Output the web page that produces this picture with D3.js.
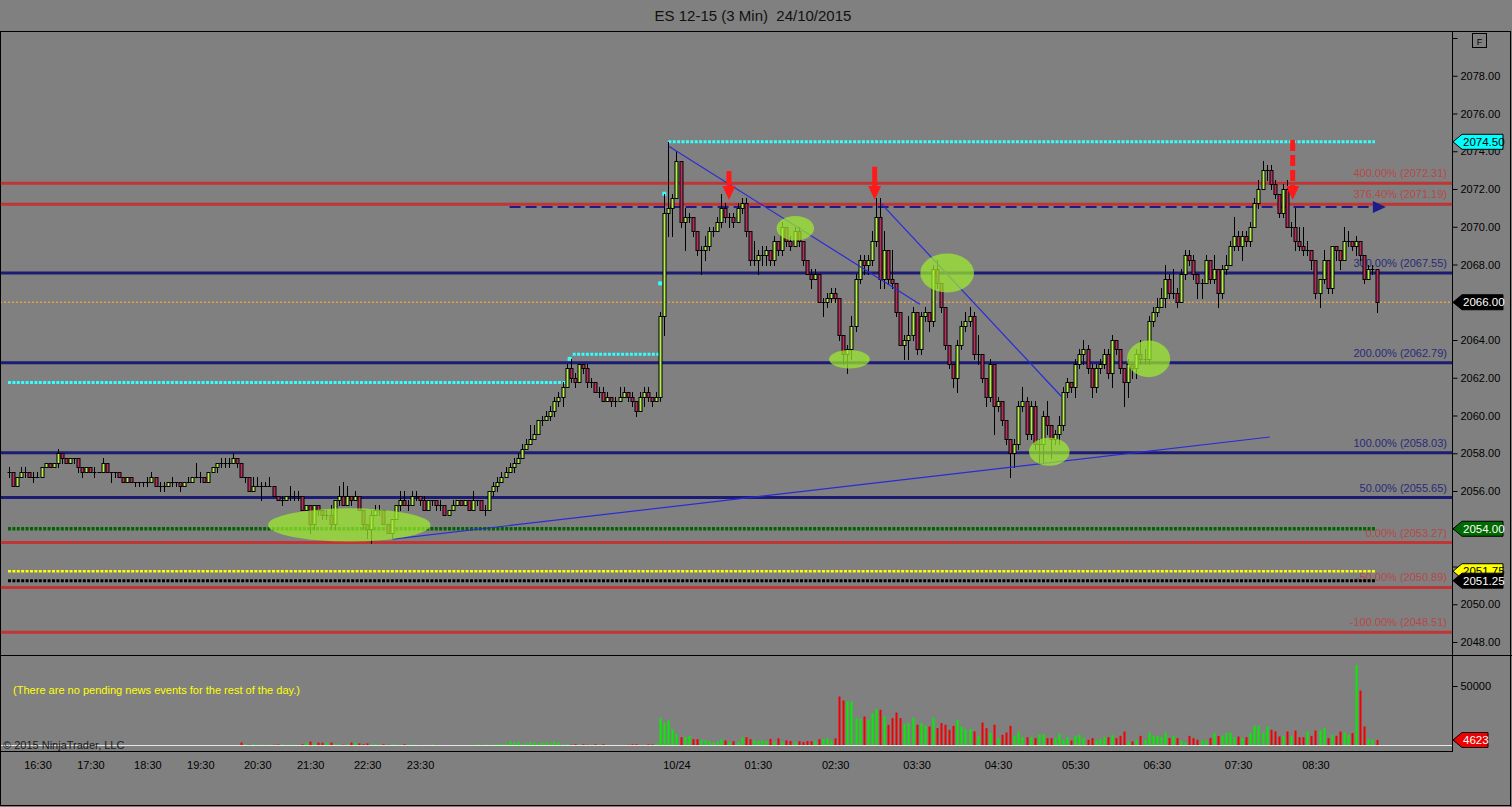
<!DOCTYPE html>
<html><head><meta charset="utf-8">
<script src="https://cdn.jsdelivr.net/npm/d3@7"></script>
<style>
html,body{margin:0;padding:0;background:#808080;overflow:hidden;}
svg{display:block;font-family:"Liberation Sans",Arial,sans-serif;}
</style></head><body>
<svg id="chart" width="1512" height="807"></svg>
<script>
// ---------------- DATA ----------------
const chartTitle = "ES 12-15 (3 Min)  24/10/2015";
const firstOpen = 2057.0;
const closes = [
2057.0,2056.25,2056.75,2057.0,2057.0,2056.75,2056.75,2056.75,2057.25,2057.5,
2057.25,2057.5,2058.0,2057.75,2057.5,2057.75,2057.75,2057.25,2057.0,2057.25,
2057.0,2057.0,2057.0,2057.5,2057.0,2057.0,2057.0,
2056.75,2056.5,2056.75,2056.5,2056.5,2056.5,2056.5,2056.5,2056.75,2056.25,
2056.25,2056.25,2056.5,2056.5,2056.5,2056.25,2056.5,
2056.5,2056.75,2056.75,2056.75,2056.5,2057.0,2057.25,2057.5,2057.5,2057.5,
2057.5,2057.75,2057.5,2056.75,2056.75,2056.0,2056.25,2056.25,2056.25,2056.25,
2056.25,2055.75,2055.5,2055.5,2055.75,2055.75,2055.75,2055.75,2055.0,2055.25,
2054.25,2055.25,2055.0,2054.75,2054.75,2054.25,2055.5,2055.75,2055.25,2055.75,
2055.5,2055.75,2055.0,2054.25,2054.0,2054.75,2055.0,2055.0,2054.25,2053.75,
2054.5,2055.25,2055.5,2055.25,2055.25,2055.75,2055.75,2055.5,2055.0,2055.5,
2055.5,2055.25,2055.25,2054.75,2055.0,2055.25,2055.5,2055.25,2055.5,2055.0,
2055.5,2055.5,2055.0,2055.0,2056.0,
2056.25,2056.5,2056.75,2057.0,2057.25,2057.5,2057.75,2058.25,2058.5,2058.75,
2059.0,2059.75,2059.75,2060.0,2060.25,2060.75,2061.0,2061.5,2062.5,2062.0,
2061.75,2062.75,2062.5,2061.75,2061.75,2061.25,2061.25,2060.75,2061.0,2060.75,
2060.75,2061.0,2061.25,2061.0,2060.75,2060.25,2061.0,2061.25,2061.0,2060.75,
2061.0,2065.25,2070.75,2071.0,2071.5,2073.5,2070.25,2070.5,2070.5,2069.75,
2068.75,2068.75,2069.0,2069.75,2069.75,2070.25,2071.0,2070.5,2070.5,2070.25,
2071.0,
2071.25,2069.75,2068.25,2068.25,2068.5,2068.5,2068.75,2068.25,2069.25,2068.75,
2070.0,2069.25,2069.0,2069.75,2069.25,2068.25,2067.5,2067.25,2067.5,2066.0,
2066.0,2066.25,2066.5,2066.25,2064.25,2063.25,2063.5,2064.75,2067.25,2068.25,
2068.0,2068.25,2069.25,2070.5,2067.25,2068.75,2067.25,2067.0,2065.5,2063.75,
2064.0,2064.25,2065.5,2063.5,2065.25,2065.5,2065.0,2067.75,2067.0,2065.75,
2063.75,2062.75,2062.0,2063.75,2064.75,2065.0,2065.25,2063.25,2063.25,2062.0,
2061.0,2062.75,2060.5,2060.75,
2059.75,2058.75,2058.0,2058.5,2060.5,2060.75,2059.0,2060.5,2058.5,2058.5,
2060.0,2059.5,2058.75,2059.0,2059.5,2061.25,2061.75,2061.5,2062.75,2063.25,
2063.5,2062.5,2061.5,2062.5,2062.75,2063.25,2062.25,2064.0,2063.5,2062.5,
2061.75,2062.75,2062.5,2063.25,2063.0,2063.0,2065.0,2065.5,2065.75,2066.25,
2067.25,2066.5,2066.5,2066.0,2067.5,2068.5,2068.25,2067.5,2067.0,2067.0,
2068.25,2067.25,2067.75,2066.5,2067.75,2068.0,2069.0,2069.5,2069.0,2069.5,
2069.25,2070.0,2071.25,2072.0,
2073.0,2073.0,2072.25,2071.75,2070.75,2072.0,2070.0,2070.0,2069.25,2069.0,
2068.75,2068.75,2068.25,2066.5,2067.25,2068.25,2066.75,2069.0,2068.75,2068.25,
2069.25,2069.25,2069.0,2069.25,2068.5,2067.25,2067.75,2067.75,2066.0
];
const highs = [
2057.25,2057.0,2056.75,2057.25,2057.25,2057.0,2057.0,2057.0,2057.25,2057.5,
2057.5,2057.5,2058.25,2058.0,2057.75,2057.75,2057.75,2057.75,2057.25,2057.25,
2057.25,2057.25,2057.0,2057.75,2057.5,2057.0,2057.0,
2057.0,2056.75,2056.75,2056.75,2056.5,2056.5,2056.5,2056.75,2057.0,2056.75,
2056.5,2056.5,2056.5,2056.75,2056.5,2056.5,2056.5,
2056.75,2056.75,2057.5,2057.0,2056.75,2057.0,2057.25,2057.5,2057.75,2057.75,
2057.75,2058.0,2057.75,2057.5,2056.75,2056.75,2056.75,2056.75,2056.5,2056.5,
2056.75,2056.25,2055.75,2055.75,2055.75,2056.25,2056.0,2056.0,2055.75,2055.25,
2055.0,2055.25,2055.25,2055.0,2055.0,2055.25,2055.5,2056.25,2056.5,2056.25,
2055.75,2056.0,2055.75,2055.0,2054.25,2055.0,2055.25,2055.25,2054.75,2054.25,
2054.5,2055.25,2056.0,2056.0,2055.5,2056.0,2056.0,2055.75,2055.75,2055.5,
2055.5,2055.5,2055.5,2055.25,2055.0,2055.5,2055.5,2055.5,2055.5,2055.5,
2056.0,2055.5,2055.5,2055.25,2056.0,
2056.5,2056.75,2057.0,2057.25,2057.5,2057.75,2058.0,2058.5,2058.75,2059.5,
2059.5,2059.75,2060.0,2060.25,2060.5,2061.0,2061.25,2061.75,2062.75,2063.0,
2062.25,2062.75,2062.75,2062.75,2062.0,2061.75,2061.5,2061.5,2061.25,2061.0,
2061.0,2061.5,2061.5,2061.25,2061.25,2060.75,2061.25,2061.5,2061.5,2061.0,
2061.25,2065.5,2071.75,2074.5,2071.75,2074.0,2073.5,2071.0,2070.75,2070.5,
2069.75,2069.0,2069.5,2070.0,2070.0,2070.5,2071.75,2071.25,2070.75,2070.75,
2071.25,
2071.5,2071.5,2069.5,2069.25,2068.75,2069.0,2069.0,2068.75,2069.5,2069.25,
2070.25,2070.0,2069.5,2070.0,2070.0,2069.25,2068.25,2067.75,2067.75,2067.5,
2066.25,2066.5,2066.75,2066.75,2066.25,2064.25,2063.75,2065.25,2067.5,2068.5,
2068.5,2068.5,2069.75,2071.5,2071.5,2069.75,2068.75,2068.75,2067.0,2065.5,
2064.25,2065.25,2065.75,2065.5,2065.5,2065.75,2065.5,2068.0,2068.25,2067.0,
2065.75,2063.75,2062.75,2064.0,2065.0,2065.5,2065.75,2065.5,2064.25,2063.25,
2062.0,2063.0,2062.75,2061.0,
2060.75,2059.5,2058.75,2058.75,2060.75,2061.5,2061.0,2060.75,2060.75,2058.75,
2060.25,2060.75,2059.5,2059.25,2060.0,2061.5,2062.0,2061.75,2063.0,2063.5,
2064.0,2063.75,2062.75,2062.75,2063.0,2063.5,2063.5,2064.25,2064.0,2063.5,
2062.25,2063.0,2062.75,2063.5,2064.0,2063.5,2065.25,2065.75,2066.25,2066.75,
2068.0,2067.5,2067.75,2066.75,2067.75,2068.75,2068.75,2068.5,2067.5,2067.25,
2068.5,2068.25,2068.5,2067.75,2068.0,2068.5,2069.25,2070.5,2069.75,2069.75,
2069.75,2070.25,2071.5,2072.5,
2073.5,2073.25,2073.25,2072.5,2071.75,2072.25,2072.5,2070.25,2071.0,2070.0,
2070.0,2069.25,2068.75,2068.0,2067.25,2068.75,2068.25,2069.0,2069.0,2068.75,
2070.0,2069.75,2069.25,2069.5,2069.25,2068.5,2068.0,2068.0,2067.75
];
const lows = [
2056.75,2056.25,2056.25,2056.75,2056.75,2056.75,2056.5,2056.75,2056.75,2057.25,
2057.25,2057.25,2057.25,2057.5,2057.5,2057.5,2057.5,2057.0,2056.75,2057.0,
2057.0,2056.75,2057.0,2057.0,2057.0,2056.5,2056.75,
2056.75,2056.5,2056.5,2056.5,2056.25,2056.25,2056.25,2056.25,2056.5,2056.25,
2056.0,2056.0,2056.25,2056.25,2056.25,2056.0,2056.25,
2056.5,2056.5,2056.75,2056.5,2056.5,2056.5,2057.0,2057.0,2057.25,2057.25,
2057.25,2057.5,2057.25,2056.75,2056.5,2056.0,2056.0,2056.25,2055.5,2056.25,
2056.25,2055.75,2055.5,2055.25,2055.5,2055.5,2055.5,2055.5,2055.0,2055.0,
2053.75,2054.0,2054.75,2054.5,2054.5,2054.0,2054.0,2055.25,2055.25,2055.25,
2055.25,2055.5,2055.0,2054.0,2053.5,2053.25,2054.75,2054.75,2054.25,2053.75,
2053.5,2054.5,2055.0,2055.25,2055.0,2055.25,2055.5,2055.25,2055.0,2055.25,
2055.25,2055.0,2055.0,2054.75,2054.75,2055.0,2055.25,2055.25,2055.25,2055.0,
2055.0,2055.25,2055.0,2054.75,2055.0,
2055.75,2056.0,2056.5,2056.75,2057.0,2057.0,2057.5,2057.75,2058.25,2058.5,
2058.75,2059.0,2059.5,2059.75,2059.75,2060.0,2060.5,2060.5,2061.5,2061.75,
2061.5,2061.75,2062.25,2061.5,2061.5,2061.25,2061.0,2060.75,2060.75,2060.5,
2060.5,2060.75,2061.0,2060.75,2060.5,2060.0,2060.25,2060.5,2060.75,2060.5,
2060.75,2060.75,2064.25,2069.5,2069.5,2071.5,2070.0,2068.75,2070.25,2069.5,
2068.5,2067.5,2068.25,2068.75,2069.5,2069.75,2070.0,2070.25,2070.0,2070.0,
2070.25,
2070.75,2069.5,2068.0,2068.0,2067.5,2068.0,2068.0,2068.0,2068.0,2068.5,
2068.5,2069.0,2068.75,2069.0,2069.0,2068.0,2067.5,2066.75,2067.25,2066.0,
2065.25,2065.75,2066.0,2066.0,2064.0,2062.75,2062.25,2063.0,2064.5,2067.0,
2067.5,2067.5,2068.0,2069.0,2066.75,2066.75,2067.0,2066.75,2065.25,2063.75,
2063.0,2063.0,2064.0,2063.25,2063.25,2065.0,2064.5,2064.75,2066.75,2065.5,
2063.5,2062.5,2061.5,2061.25,2063.5,2064.5,2064.75,2063.0,2062.75,2061.75,
2060.5,2060.75,2059.0,2060.25,
2059.5,2058.5,2056.75,2057.25,2058.25,2060.25,2058.75,2058.75,2058.25,2057.5,
2057.5,2059.0,2057.75,2058.5,2058.5,2059.25,2061.0,2061.25,2061.0,2062.5,
2062.75,2062.25,2061.0,2061.25,2062.25,2062.5,2062.0,2061.5,2063.25,2062.25,
2060.5,2061.0,2062.0,2062.0,2062.75,2062.75,2062.75,2064.75,2065.25,2065.75,
2065.75,2066.25,2066.25,2065.75,2066.0,2067.25,2068.0,2067.25,2066.25,2066.25,
2067.0,2067.0,2067.0,2065.75,2066.25,2067.5,2068.0,2068.75,2068.75,2068.25,
2069.0,2069.0,2070.0,2071.0,
2072.25,2072.5,2072.0,2071.5,2070.5,2070.5,2070.0,2069.5,2068.75,2068.75,
2068.5,2068.5,2067.75,2066.25,2065.75,2067.0,2066.5,2066.5,2068.25,2067.75,
2068.25,2069.0,2068.75,2068.5,2068.25,2067.0,2067.25,2067.5,2065.5
];
const volumes = [
200,150,100,250,150,100,200,150,300,200,150,250,400,200,150,100,150,300,200,150,
100,150,100,300,250,150,100,150,200,100,150,100,200,150,100,150,200,300,150,100,
150,200,100,150,100,200,150,300,200,150,250,300,200,150,300,200,150,
2500,1100,600,1100,500,1100,400,1000,600,800,
1200,500,900,700,500,1100,2500,3400,1800,2500,
2300,2500,2500,1000,1100,700,1100,2500,2600,1800,
1100,1800,1000,1100,800,1100,600,1100,800,500,
1100,900,1100,600,500,300,600,1000,500,400,
300,200,400,300,200,400,300,200,1100,400,
1100,500,1100,1300,1500,1800,3400,2500,3400,1300,
1800,2600,2500,1800,2500,2600,1800,3400,2500,1100,
1200,700,1100,1000,1100,700,500,1100,400,1100,
600,400,300,500,400,600,1000,1100,400,600,
1000,900,1800,
23000,19000,21000,13500,9500,7000,7000,8200,5300,5300,
4800,4500,3500,2500,3400,5300,4200,3000,3600,3000,
6800,7000,5300,4400,3800,4200,3600,5600,3000,6000,
3500,4400,3800,3000,3600,2800,3800,3600,3800,5300,
5300,6000,4000,6000,
41200,37800,37000,37000,23000,22400,24400,21600,27200,30500,
30000,24400,17400,23000,27700,23000,18200,18800,23000,17400,
18800,16500,16000,23500,14600,18800,17400,13200,16500,21600,
16000,13700,13700,11800,7600,19300,14600,10400,17400,6200,
9000,10900,16500,8100,11800,7000,7000,7000,6200,9000,
9800,6200,6200,6200,9800,4800,7000,4200,8100,9000,
6200,4800,6200,4200,5300,7000,7000,9000,6200,8100,
11800,3400,3400,4800,8100,4800,10900,8100,8100,7000,
10900,6200,8100,6200,4200,2500,8100,6200,4800,4200,
4200,6200,10400,8100,8100,10400,10900,7000,7600,6200,
7000,10400,16500,16500,10900,16000,13200,11800,7600,8100,
11800,7600,12600,7000,7000,11800,8100,12600,12600,14600,
6200,9000,8100,11800,10900,9000,10400,
67800,46200,16000,5300,4800,4623
];
const timeTickBars = [7,20,34,47,61,74,88,101,164,184,203,223,243,262,282,302,321];
const timeTickLabels = ["16:30","17:30","18:30","19:30","20:30","21:30","22:30","23:30","10/24","01:30","02:30","03:30","04:30","05:30","06:30","07:30","08:30"];
const priceTickValues = [2048,2050,2052,2054,2056,2058,2060,2062,2064,2066,2068,2070,2072,2074,2076,2078,2080];
const volumeTickValues = [50000];
// Fibonacci levels
const fibRedPrices = [2072.31,2071.19,2053.27,2050.89,2048.51];
const fibRedPcts = ["400.00%","376.40%","0.00%","-50.00%","-100.00%"];
const fibBluePrices = [2067.55,2062.79,2058.03,2055.65];
const fibBluePcts = ["300.00%","200.00%","100.00%","50.00%"];
// dotted level lines: [startBar, endBar, price]
const cyanLevels = [[-0.25,137.2,2061.75],[138.5,160,2063.25],[162,335.6,2074.5]];
const cyanMarkers = [[137.75,2063.0],[160,2067.0],[161,2071.75]];
const greenLevel = [-0.25,335.6,2054.0];
const yellowLevel = [-0.25,335.6,2051.75];
const blackLevel = [-0.25,335.6,2051.25];
const lastPrice = 2066.0;
const navyDashed = [123,335.1,2071.05];
// trend lines: [bar1, price1, bar2, price2]
const trendLines = [[162.2,2074.25,223.8,2065.9],[214.2,2071.25,258.7,2060.98],[94.3,2053.45,309.8,2058.86]];
// highlight ellipses: [bar, price, radiusBars, radiusPrice]
const ellipses = [[83.6,2054.2,19.95,0.88],[193.2,2069.92,4.6,0.65],[206.5,2062.98,5.0,0.49],[230.5,2067.55,6.6,1.03],[255.6,2058.08,5.0,0.74],[280,2063.0,5.3,0.97]];
// red arrows: [bar, shaftTopPrice, tipPrice, dashed]
const arrows = [[176.9,2072.95,2071.42,false],[212.7,2073.18,2071.42,false],[315.4,2074.6,2071.42,true]];
const priceTags = [[2074.5,"#00ffff","#000"],[2066.0,"#000000","#fff"],[2054.0,"#006a00","#fff"],[2051.75,"#ffff00","#000"],[2051.25,"#000000","#fff"]];
const newsText = "(There are no pending news events for the rest of the day.)";
const copyrightText = "© 2015 NinjaTrader, LLC";

// ---------------- DRAW ----------------
const svg = d3.select("#chart");
const W = 1512, H = 807;
const N = closes.length;
const plotRight = 1452;
const x = d3.scaleLinear().domain([0, N-1]).range([9, 9 + (N-1)*4.07]);
const y = d3.scaleLinear().domain([2048, 2078]).range([642, 75.75]);
const yv = d3.scaleLinear().domain([0, 50000]).range([745.5, 686]);
const opens = closes.map((c,i)=> i===0 ? firstOpen : closes[i-1]);
const bars = closes.map((c,i)=>({i, o:opens[i], c, h:Math.max(highs[i],opens[i],c), l:Math.min(lows[i],opens[i],c), v:volumes[i]}));

svg.append("rect").attr("width",W).attr("height",H).attr("fill","#808080");

// title
svg.append("text").attr("x",753).attr("y",21).attr("text-anchor","middle")
  .style("white-space","pre").attr("font-size",15).attr("fill","#111").text(chartTitle);

svg.append("defs").html(
 '<clipPath id="mainClip"><rect x="1" y="32" width="1451" height="623"/></clipPath>'+
 '<clipPath id="volClip"><rect x="1" y="656" width="1451" height="95"/></clipPath>');

const main = svg.append("g").attr("clip-path","url(#mainClip)");
const vol = svg.append("g").attr("clip-path","url(#volClip)");

// fib lines
const fibRed = fibRedPrices.map((p,i)=>({p, t:fibRedPcts[i]+" ("+p.toFixed(2)+")"}));
const fibBlue = fibBluePrices.map((p,i)=>({p, t:fibBluePcts[i]+" ("+p.toFixed(2)+")"}));
main.selectAll("line.fr").data(fibRed).join("line").attr("class","fr")
  .attr("x1",0).attr("x2",plotRight).attr("y1",d=>y(d.p)).attr("y2",d=>y(d.p))
  .attr("stroke","#c03535").attr("stroke-width",3);
main.selectAll("line.fb").data(fibBlue).join("line").attr("class","fb")
  .attr("x1",0).attr("x2",plotRight).attr("y1",d=>y(d.p)).attr("y2",d=>y(d.p))
  .attr("stroke","#1c1c72").attr("stroke-width",3);
main.selectAll("text.fr").data(fibRed).join("text").attr("class","fr")
  .attr("x",1447).attr("y",d=>y(d.p)-6).attr("text-anchor","end").attr("font-size",11)
  .attr("fill","#b84848").text(d=>d.t);
main.selectAll("text.fb").data(fibBlue).join("text").attr("class","fb")
  .attr("x",1447).attr("y",d=>y(d.p)-6).attr("text-anchor","end").attr("font-size",11)
  .attr("fill","#2a2a7a").text(d=>d.t);

// orange last price line
main.append("line").attr("x1",0).attr("x2",plotRight).attr("y1",y(lastPrice)).attr("y2",y(lastPrice))
  .attr("stroke","#e2a04a").attr("stroke-width",1.5).attr("stroke-dasharray","2,2");

// dotted levels
function dotted(lv, color, w){
  main.append("line").attr("x1",x(lv[0])).attr("x2",x(lv[1])).attr("y1",y(lv[2])).attr("y2",y(lv[2]))
   .attr("stroke",color).attr("stroke-width",w).attr("stroke-dasharray","3,1.4");
}
dotted(greenLevel,"#006400",3.5);
dotted(yellowLevel,"#ffff00",2.5);
dotted(blackLevel,"#000000",3);
cyanLevels.forEach(l=>dotted(l,"#33ffff",3));
main.selectAll("rect.cm").data(cyanMarkers).join("rect").attr("class","cm")
  .attr("x",d=>x(d[0])-2).attr("y",d=>y(d[1])-2).attr("width",4).attr("height",4).attr("fill","#33ffff");

// navy dashed line with arrow
main.append("line").attr("x1",x(navyDashed[0])).attr("x2",x(navyDashed[1]))
  .attr("y1",y(navyDashed[2])).attr("y2",y(navyDashed[2]))
  .attr("stroke","#1c1c8a").attr("stroke-width",2).attr("stroke-dasharray","11,5");
{
  const ax = x(navyDashed[1]), ay = y(navyDashed[2]);
  main.append("path").attr("d",`M${ax},${ay-6}L${ax+13},${ay}L${ax},${ay+6}Z`).attr("fill","#1c1c8a");
}

// candles
const cg = main.append("g");
bars.forEach(b=>{
  const cx = Math.round(x(b.i));
  cg.append("line").attr("x1",cx+0.5).attr("x2",cx+0.5).attr("y1",Math.round(y(b.h))).attr("y2",Math.round(y(b.l))+1)
    .attr("stroke","#000").attr("stroke-width",1);
  const top = Math.round(y(Math.max(b.o,b.c))), bot = Math.round(y(Math.min(b.o,b.c)));
  const up = b.c >= b.o;
  cg.append("rect").attr("x",cx-1).attr("y",top+0.5).attr("width",3).attr("height",Math.max(bot-top,0.01))
    .attr("fill", up ? "#b4f04a" : "#b82e5c").attr("stroke","#000").attr("stroke-width",1);
});

// trend lines
main.selectAll("line.tl").data(trendLines).join("line").attr("class","tl")
  .attr("x1",d=>x(d[0])).attr("y1",d=>y(d[1])).attr("x2",d=>x(d[2])).attr("y2",d=>y(d[3]))
  .attr("stroke","#2a2ad8").attr("stroke-width",1.2);

// ellipses
main.selectAll("ellipse").data(ellipses).join("ellipse")
  .attr("cx",d=>x(d[0])).attr("cy",d=>y(d[1]))
  .attr("rx",d=>x(d[2])-x(0)).attr("ry",d=>y(0)-y(d[3]) )
  .attr("fill","#9cea2c").attr("fill-opacity",0.72);

// red arrows
arrows.forEach(a=>{
  const ax = x(a[0]), top = y(a[1]), tip = y(a[2]);
  const headH = 14;
  main.append("line").attr("x1",ax).attr("x2",ax).attr("y1",top).attr("y2",tip-headH+1)
    .attr("stroke","#ff1a1a").attr("stroke-width",5)
    .attr("stroke-dasharray", a[3] ? "11,4" : null);
  main.append("path").attr("d",`M${ax-6.5},${tip-headH}L${ax+6.5},${tip-headH}L${ax},${tip}Z`).attr("fill","#ff1a1a");
});

// volume bars
vol.append("line").attr("x1",0).attr("x2",plotRight).attr("y1",745.5).attr("y2",745.5).attr("stroke","#e8e8e8").attr("stroke-width",1);
vol.selectAll("rect.v").data(bars).join("rect").attr("class","v")
  .attr("x",d=>Math.round(x(d.i))-0.5).attr("width",2)
  .attr("y",d=>yv(d.v)).attr("height",d=>745-yv(d.v))
  .attr("fill",d=> d.c>=d.o ? "#00f000" : "#f00000");

// texts in volume panel
svg.append("text").attr("x",13).attr("y",694).attr("font-size",11).attr("fill","#ffff00")
  .attr("textLength",287).attr("lengthAdjust","spacingAndGlyphs").text(newsText);
svg.append("text").attr("x",3).attr("y",749).attr("font-size",11).attr("fill","#1a1a1a").text(copyrightText);

// frames
const fr = svg.append("g").attr("stroke","#000").attr("stroke-width",1).attr("fill","none");
fr.append("rect").attr("x",0.5).attr("y",31.5).attr("width",1510).attr("height",774);
fr.append("line").attr("x1",0).attr("x2",W).attr("y1",655.5).attr("y2",655.5);
fr.append("line").attr("x1",0).attr("x2",plotRight).attr("y1",751.5).attr("y2",751.5);
fr.append("line").attr("x1",plotRight+0.5).attr("x2",plotRight+0.5).attr("y1",31).attr("y2",752);

// axes (tick labels fully under a price tag are hidden, as in the reference)
const tagYs = priceTags.map(t=>y(t[0]));
const hiddenByTag = d => tagYs.some(ty => Math.abs(y(d)-ty) < 8);
const yAxis = d3.axisRight(y).tickValues(priceTickValues).tickSize(5).tickPadding(3)
  .tickFormat(d=> (d===2080 || hiddenByTag(d)) ? "" : d.toFixed(2));
const ya = svg.append("g").attr("transform",`translate(${plotRight+0.5},0)`).call(yAxis);
ya.select(".domain").remove();
ya.selectAll("text").attr("font-size",11).attr("font-family","Liberation Sans, Arial, sans-serif").attr("fill","#000");
ya.selectAll("line").attr("stroke","#000");

const vAxis = d3.axisRight(yv).tickValues(volumeTickValues).tickSize(5).tickPadding(3).tickFormat(d3.format("d"));
const va = svg.append("g").attr("transform",`translate(${plotRight+0.5},0)`).call(vAxis);
va.select(".domain").remove();
va.selectAll("text").attr("font-size",11).attr("font-family","Liberation Sans, Arial, sans-serif").attr("fill","#000");

const xAxis = d3.axisBottom(x).tickValues(timeTickBars).tickSize(0).tickPadding(10)
  .tickFormat((d,i)=>timeTickLabels[i]);
const xa = svg.append("g").attr("transform","translate(0,751)").call(xAxis);
xa.select(".domain").remove();
xa.selectAll("text").attr("font-size",11).attr("font-family","Liberation Sans, Arial, sans-serif").attr("fill","#000");

// price tags
function tag(cy, text, fill, tcol, w){
  const g = svg.append("g");
  const x0 = plotRight+1, x1 = x0+9, x2 = x0+w;
  g.append("path").attr("d",`M${x0},${cy}L${x1},${cy-7.5}L${x2},${cy-7.5}L${x2},${cy+7.5}L${x1},${cy+7.5}Z`)
    .attr("fill",fill).attr("stroke","#000").attr("stroke-width",1);
  g.append("text").attr("x",x1+1).attr("y",cy+4).attr("font-size",11.5).attr("fill",tcol).text(text);
}
priceTags.forEach(t=>tag(y(t[0]), t[0].toFixed(2), t[1], t[2], 50));
tag(yv(volumes[N-1]), String(volumes[N-1]), "#ee0000", "#fff", 35);

// F button
svg.append("rect").attr("x",1472.5).attr("y",33.5).attr("width",14).attr("height",14).attr("fill","none").attr("stroke","#000");
svg.append("text").attr("x",1479.5).attr("y",44.5).attr("text-anchor","middle").attr("font-size",9).attr("fill","#000").text("F");
</script>
</body></html>
